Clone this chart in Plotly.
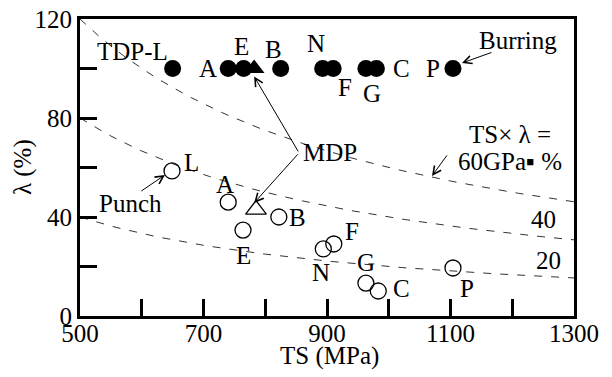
import plotly.graph_objects as go

# Burring (filled circles, lambda = 100 %)
burr_labels = ["L", "A", "E", "B", "N", "F", "G", "C", "P"]
burr_ts = [650, 740, 765, 825, 893, 910, 963, 980, 1104]
burr_lam = [100, 100, 100, 100, 100, 100, 100, 100, 100]

# Punch (open circles)
punch_labels = ["L", "A", "E", "B", "N", "F", "G", "C", "P"]
punch_ts = [649, 740, 764, 822, 894, 911, 963, 983, 1104]
punch_lam = [58.6, 46.0, 34.7, 40.0, 27.1, 29.1, 13.3, 10.1, 19.4]

# MDP (triangles)
mdp_ts = [782, 785]
mdp_lam = [100, 43.0]

# Iso-lines TS x lambda = const (GPa.%)
iso_consts = [20, 40, 60]

x_tickvals = [500, 600, 700, 800, 900, 1000, 1100, 1200, 1300]
x_ticktext = ["500", "", "700", "", "900", "", "1100", "", "1300"]
y_tickvals = [0, 20, 40, 60, 80, 100, 120]
y_ticktext = ["0", "", "40", "", "80", "", "120"]

FONT = "Liberation Serif"
FS = 25

fig = go.Figure()

ts_grid = list(range(500, 1301, 10))
for c in iso_consts:
    fig.add_trace(go.Scatter(
        x=ts_grid, y=[c * 1000.0 / t for t in ts_grid], mode="lines",
        line=dict(color="#333333", width=1, dash="8px,9px"),
        showlegend=False, hoverinfo="skip"))

fig.add_trace(go.Scatter(
    x=burr_ts, y=burr_lam, mode="markers",
    marker=dict(symbol="circle", size=17, color="black"),
    showlegend=False))
fig.add_trace(go.Scatter(
    x=punch_ts, y=punch_lam, mode="markers",
    marker=dict(symbol="circle-open", size=16, color="black", line=dict(width=1.3)),
    showlegend=False))
fig.add_trace(go.Scatter(
    x=mdp_ts[:1], y=mdp_lam[:1], mode="markers",
    marker=dict(symbol="triangle-up", size=18, color="black"),
    showlegend=False))
fig.add_trace(go.Scatter(
    x=mdp_ts[1:], y=mdp_lam[1:], mode="markers",
    marker=dict(symbol="triangle-up-open", size=18, color="black", line=dict(width=1.3)),
    showlegend=False))

texts = [
    ("TDP-L", 585, 106.7),
    ("A", 707, 100), ("E", 762, 108.7), ("B", 814, 107.5), ("N", 882, 110),
    ("F", 929, 92.5), ("G", 973, 90), ("C", 1021, 100), ("P", 1072, 100),
    ("Burring", 1209, 111.5),
    ("TS\u00d7 \u03bb =", 1196, 73.2),
    ("60GPa\u25aa %", 1196, 62.6),
    ("40", 1250, 38.8), ("20", 1258, 22.6),
    ("MDP", 905, 65.9),
    ("L", 681, 62), ("Punch", 581, 45.6),
    ("A", 735, 53), ("B", 853, 40), ("E", 764, 24.6),
    ("N", 890, 17.4), ("F", 940, 34.3), ("G", 963, 21.8),
    ("C", 1020, 11.3), ("P", 1127, 11.3),
]
for t, x, y in texts:
    fig.add_annotation(x=x, y=y, text=t, showarrow=False,
                       font=dict(family=FONT, size=FS, color="black"),
                       xanchor="center", yanchor="middle")

arrows = [
    # (head_x, head_y, tail_x, tail_y)
    (1118.6, 102.2, 1168.8, 106.7),   # Burring
    (1070, 56.6, 1096, 65.5),         # 60GPa
    (637.6, 57.0, 597, 50.1),         # Punch
    (782, 96.8, 854.7, 65.9),         # MDP upper
    (782, 45.7, 854.7, 65.9),         # MDP lower
]
for hx, hy, tx, ty in arrows:
    fig.add_annotation(x=hx, y=hy, ax=tx, ay=ty, axref="x", ayref="y",
                       xref="x", yref="y", text="", showarrow=True,
                       arrowhead=5, arrowsize=1.6, arrowwidth=1,
                       arrowcolor="black", standoff=0, startstandoff=0)

# axis titles placed as paper annotations
fig.add_annotation(x=0.506, y=-0.135, xref="paper", yref="paper",
                   text="TS (MPa)", showarrow=False,
                   font=dict(family=FONT, size=FS, color="black"),
                   xanchor="center", yanchor="middle")
fig.add_annotation(x=-0.115, y=0.502, xref="paper", yref="paper",
                   text="\u03bb (%)", showarrow=False, textangle=-90,
                   font=dict(family=FONT, size=FS, color="black"),
                   xanchor="center", yanchor="middle")

axis_common = dict(
    ticks="inside", ticklen=17, tickwidth=3, tickcolor="black",
    showline=True, linewidth=3, linecolor="black", mirror=True,
    showgrid=False, zeroline=False, automargin=False,
    tickfont=dict(family=FONT, size=FS, color="black"),
)
fig.update_xaxes(range=[500, 1300], tickmode="array", tickvals=x_tickvals,
                 ticktext=x_ticktext, ticklabelstandoff=-7, **axis_common)
fig.update_yaxes(range=[0, 120], tickmode="array", tickvals=y_tickvals,
                 ticktext=y_ticktext, **axis_common)

fig.update_layout(width=612, height=377,
                  margin=dict(l=80, r=38, t=19, b=61),
                  paper_bgcolor="white", plot_bgcolor="white",
                  font=dict(family=FONT, size=FS, color="black"))

fig.write_html("out.html", config={"displayModeBar": False},
               post_script="document.body.style.margin='0';")
